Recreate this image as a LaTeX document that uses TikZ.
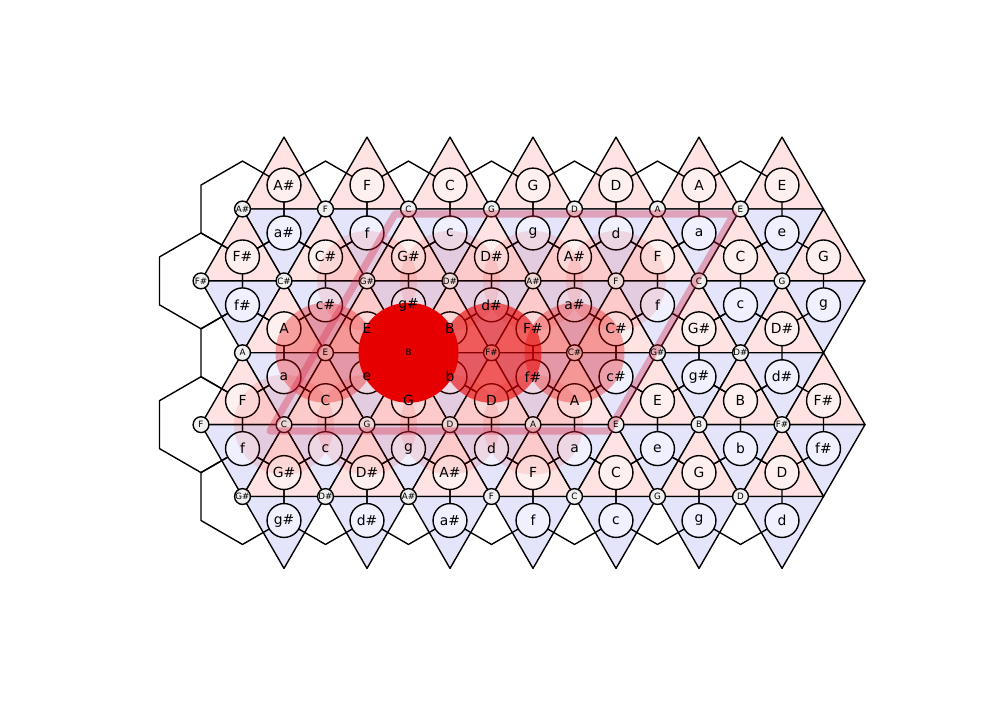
\documentclass[tikz,border=0pt]{standalone}
\usepackage{fontspec}
\setmainfont{DejaVu Sans}
\usepackage{xcolor}
\usepackage{tikz}

\definecolor{majtri}{RGB}{255,226,226}
\definecolor{mintri}{RGB}{228,228,250}
\definecolor{majfill}{RGB}{255,240,240}
\definecolor{minfill}{RGB}{240,240,255}
\definecolor{notefill}{RGB}{240,240,240}
\definecolor{hot}{RGB}{230,0,0}
\definecolor{keyline}{RGB}{215,40,70}

\newcommand{\pcname}[1]{\ifcase#1 C\or C\#\or D\or D\#\or E\or F\or F\#\or G\or G\#\or A\or A\#\or B\fi}
\newcommand{\pcminor}[1]{\ifcase#1 c\or c\#\or d\or d\#\or e\or f\or f\#\or g\or g\#\or a\or a\#\or b\fi}

\begin{document}
\begin{tikzpicture}[x=0.72pt, y=-0.72pt,
    uptri/.style={fill=majtri, draw=black, line width=1pt, line join=round},
    dntri/.style={fill=mintri, draw=black, line width=1pt, line join=round},
    hexline/.style={draw=black, line width=1pt, line join=round},
    notept/.style={circle, draw=black, fill=notefill, line width=1pt, minimum size=11.4pt, inner sep=0pt},
    majchord/.style={circle, draw=black, fill=majfill, line width=1pt, minimum size=24.4pt, inner sep=0pt},
    minchord/.style={circle, draw=black, fill=minfill, line width=1pt, minimum size=24.4pt, inner sep=0pt},
    notelabel/.style={font=\fontsize{6.3}{7}\selectfont, inner sep=0pt},
    chordlabel/.style={font=\fontsize{10}{12}\selectfont, inner sep=0pt},
    glow/.style={fill=hot, fill opacity=#1},
    keyband/.style={draw=keyline, draw opacity=0.35, line width=5.2pt, line join=round}
]
\fill[white] (0,0) rectangle (1000,700);

\begin{scope}[shift={(201,137.12)}, x=29.88pt, y=-51.754pt]
% Major and minor triangles
\foreach \row in {1,...,5}{
  \pgfmathtruncatemacro{\ka}{mod(\row,2)}
  \pgfmathtruncatemacro{\kb}{\ka+2}
  \foreach \col in {\ka,\kb,...,14}{
    \draw[uptri] (\col,\row) -- ++(2,0) -- ++(-1,-1) -- cycle;
    \draw[dntri] (\col,\row) -- ++(2,0) -- ++(-1,1) -- cycle;
  }
}
% Dual hexagons
\foreach \row in {1,...,5}{
  \pgfmathtruncatemacro{\ka}{mod(\row,2)}
  \pgfmathtruncatemacro{\kb}{\ka+2}
  \foreach \col in {\ka,\kb,...,14}{
    \draw[hexline] (\col+1,\row-1/3) -- (\col+1,\row+1/3) -- (\col,\row+2/3)
      -- (\col-1,\row+1/3) -- (\col-1,\row-1/3) -- (\col,\row-2/3) -- cycle;
  }
}
% Notes and chords
\foreach \row in {1,...,5}{
  \pgfmathtruncatemacro{\ka}{mod(\row,2)}
  \pgfmathtruncatemacro{\kb}{\ka+2}
  \foreach \col in {\ka,\kb,...,14}{
    \node[notept] (n-\col-\row) at (\col,\row) {};
    \node[majchord] (M-\col-\row) at (\col+1,\row-1/3) {};
    \node[minchord] (m-\col-\row) at (\col+1,\row+1/3) {};
  }
}
\end{scope}

% Weights
\foreach \v in {4-2,6-2,8-2,10-2,2-4,4-4,6-4,8-4}
  \fill[glow=0.1] (n-\v) circle[radius=36pt];
\fill[glow=0.33] (n-3-3) circle[radius=36pt];
\fill[glow=0.33] (n-9-3) circle[radius=36pt];
\fill[glow=0.6] (n-7-3) circle[radius=36pt];
\fill[glow=1] (n-5-3) circle[radius=36pt];

% Key region
\draw[keyband] (270,431) -- (395,214) -- (734,214) -- (609,431) -- cycle;

% Labels
\foreach \row in {1,...,5}{
  \pgfmathtruncatemacro{\ka}{mod(\row,2)}
  \pgfmathtruncatemacro{\kb}{\ka+2}
  \foreach \col in {\ka,\kb,...,14}{
    \pgfmathtruncatemacro{\p}{mod((7*\col-\row)/2+19,12)}
    \node[notelabel] at (n-\col-\row) {\pcname{\p}};
    \node[chordlabel] at (M-\col-\row) {\pcname{\p}};
    \node[chordlabel] at (m-\col-\row) {\pcminor{\p}};
  }
}
\end{tikzpicture}
\end{document}
